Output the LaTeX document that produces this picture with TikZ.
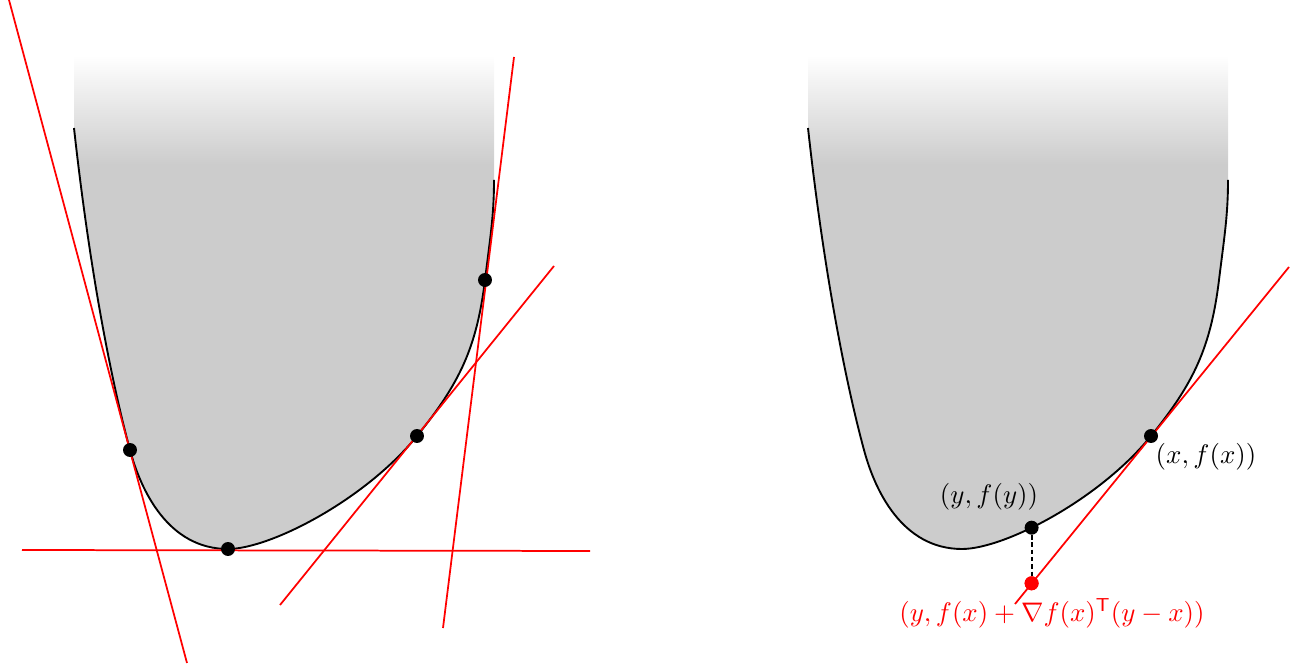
\documentclass[tikz,border=0pt]{standalone}
\begin{document}
\begin{tikzpicture}[x=0.372pt,y=-0.372pt,
  curveline/.style={black,line width=0.7pt},
  tangent/.style={red,line width=0.65pt},
  dot/.style={circle,fill=black,inner sep=0pt,minimum size=5.2pt},
  reddot/.style={circle,fill=red,inner sep=0pt,minimum size=5.2pt},
  lbl/.style={inner sep=0pt},
  fillgray/.style={fill=gray!40}]
\useasboundingbox (0,0) rectangle (1291,669);
\def\fcurve{(74,128) .. controls (89.4,268) and (111,380) .. (130,450)
  .. controls (140.7,490) and (168,549) .. (228,549)
  .. controls (270,549) and (365,500) .. (417,436)
  .. controls (459.8,383.1) and (476.7,347.5) .. (485,280)
  .. controls (490.5,235.3) and (494,215) .. (494,180)}
\def\fregion{(74,0) -- \fcurve -- (494,0) -- cycle}
\def\fshading{%
  \begin{scope}
    \clip \fregion;
    \fill[fillgray] (70,165) rectangle (500,700);
    \shade[top color=white,bottom color=gray!40] (70,55) rectangle (500,165);
  \end{scope}}
% ---------- left panel ----------
\fshading
\draw[curveline] \fcurve;
\coordinate (l1a) at (9,0);    \coordinate (l1b) at (187,663);
\coordinate (l2a) at (22,550); \coordinate (l2b) at (590,551);
\coordinate (l3a) at (280,605);\coordinate (l3b) at (554,266);
\coordinate (l4a) at (443,628);\coordinate (l4b) at (514,57);
\draw[tangent] (l1a) -- (l1b);
\draw[tangent] (l2a) -- (l2b);
\draw[tangent] (l3a) -- (l3b);
\draw[tangent] (l4a) -- (l4b);
\node[dot] (p1) at (130,450) {};
\node[dot] (p2) at (228,549) {};
\node[dot] (p3) at (417,436) {};
\node[dot] (p4) at (485,280) {};
% ---------- right panel ----------
\begin{scope}[shift={(734,0)}]
  \fshading
  \draw[curveline] \fcurve;
\end{scope}
\coordinate (ra) at (1015,604); \coordinate (rb) at (1289,267);
\draw[tangent] (ra) -- (rb);
\node[dot] (px) at (1151,436) {};
\node[dot] (py) at (1031.6,527.7) {};
\node[reddot] (pz) at (1031.6,583.3) {};
\draw[black,line width=0.75pt,dash pattern=on 1.6pt off 1.1pt] (py) -- (pz);
\node[reddot] at (pz) {};
\node[lbl] (lx) at (1206,457) {$(x,f(x))$};
\node[lbl] (ly) at (989,497) {$(y,f(y))$};
\node[lbl,text=red] (lz) at (1052,613) {$(y,f(x)+\nabla f(x)^{\mathsf{T}}(y-x))$};
\end{tikzpicture}
\end{document}
